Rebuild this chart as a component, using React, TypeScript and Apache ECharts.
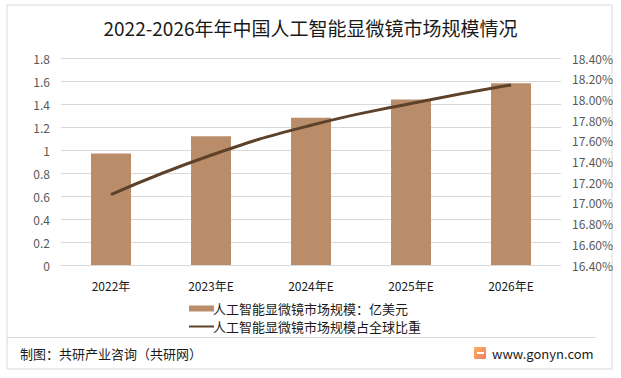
import React, { useEffect, useRef } from "react";
import * as echarts from "echarts";

const categories = ["2022年", "2023年E", "2024年E", "2025年E", "2026年E"];
const marketSize = [0.97, 1.12, 1.28, 1.44, 1.58];
const globalShare = [17.08, 17.46, 17.75, 17.96, 18.14];
const barName = "人工智能显微镜市场规模：亿美元";
const lineName = "人工智能显微镜市场规模占全球比重";
const titleText = "2022-2026年年中国人工智能显微镜市场规模情况";
const sourceText = "制图：共研产业咨询（共研网）";
const siteText = "www.gonyn.com";

const FONT = "'Noto Sans CJK SC', 'Noto Sans', sans-serif";

export default function App() {
  const ref = useRef<HTMLDivElement>(null);
  useEffect(() => {
    if (!ref.current) return;
    const chart = echarts.init(ref.current, null, { renderer: "svg" });
    chart.setOption({
      animation: false,
      backgroundColor: "#ffffff",
      textStyle: { fontFamily: FONT },
      title: {
        text: titleText,
        left: "center",
        top: 13,
        textStyle: { fontSize: 19, fontWeight: "normal", color: "#1a1a1a", fontFamily: FONT },
      },
      grid: { left: 61, right: 60, top: 58, bottom: 113, containLabel: false },
      legend: {
        orient: "vertical",
        left: 183,
        top: 297,
        itemWidth: 25,
        itemHeight: 6,
        itemGap: 5,
        textStyle: { fontSize: 13, color: "#1a1a1a", fontFamily: FONT, padding: [0, 0, 0, -6] },
        data: [
          { name: barName, icon: "rect" },
          { name: lineName, itemStyle: { opacity: 0 } },
        ],
      },
      xAxis: {
        type: "category",
        data: categories,
        axisLine: { show: true, lineStyle: { color: "#d9d9d9" } },
        axisTick: { show: false },
        axisLabel: { color: "#1a1a1a", fontSize: 12, margin: 14, fontFamily: FONT },
      },
      yAxis: [
        {
          type: "value",
          min: 0,
          max: 1.8,
          interval: 0.2,
          axisLine: { show: false },
          axisTick: { show: false },
          splitLine: { lineStyle: { color: "#d9d9d9" } },
          axisLabel: {
            color: "#595959",
            fontSize: 12,
            margin: 11,
            fontFamily: FONT,
            formatter: (v: number) => String(Math.round(v * 10) / 10),
          },
        },
        {
          type: "value",
          min: 1640,
          max: 1840,
          interval: 20,
          axisLine: { show: false },
          axisTick: { show: false },
          splitLine: { show: false },
          axisLabel: {
            color: "#595959",
            fontSize: 12,
            margin: 11,
            fontFamily: FONT,
            formatter: (v: number) => (v / 100).toFixed(2) + "%",
          },
        },
      ],
      series: [
        {
          name: barName,
          type: "bar",
          data: marketSize,
          barWidth: 40,
          itemStyle: { color: "#b98c6a" },
          z: 2,
        },
        {
          name: lineName,
          type: "line",
          yAxisIndex: 1,
          data: globalShare.map((v) => Math.round(v * 100)),
          smooth: true,
          symbol: "none",
          lineStyle: { color: "#5e4129", width: 3 },
          itemStyle: { color: "#5e4129" },
          z: 3,
        },
      ],
      graphic: [
        {
          type: "rect",
          shape: { x: 7, y: 5, width: 605, height: 364 },
          style: { fill: "none", stroke: "#d9d9d9", lineWidth: 1 },
          silent: true,
          z: -1,
        },
        {
          type: "line",
          shape: { x1: 7, y1: 337.5, x2: 596, y2: 337.5 },
          style: { stroke: "#d9d9d9", lineWidth: 1 },
          silent: true,
        },
        {
          type: "text",
          x: 20,
          y: 353,
          style: {
            text: sourceText,
            fontSize: 13,
            fill: "#1a1a1a",
            fontFamily: FONT,
            verticalAlign: "middle",
          },
        },
        {
          type: "rect",
          shape: { x: 474, y: 347, width: 12, height: 12, r: 1 },
          style: {
            fill: new echarts.graphic.LinearGradient(0, 0, 1, 1, [
              { offset: 0, color: "#f9b25a" },
              { offset: 1, color: "#f27a6a" },
            ]),
          },
        },
        {
          type: "rect",
          shape: { x: 477, y: 352, width: 7, height: 2 },
          style: { fill: "#ffffff" },
        },
        {
          type: "text",
          x: 492,
          y: 353,
          style: {
            text: siteText,
            fontSize: 13,
            fill: "#1a1a1a",
            fontFamily: FONT,
            verticalAlign: "middle",
          },
        },
      ],
    });
    return () => chart.dispose();
  }, []);
  return (
    <div
      ref={ref}
      style={{ position: "fixed", left: 0, top: 0, width: 621, height: 378 }}
    />
  );
}
